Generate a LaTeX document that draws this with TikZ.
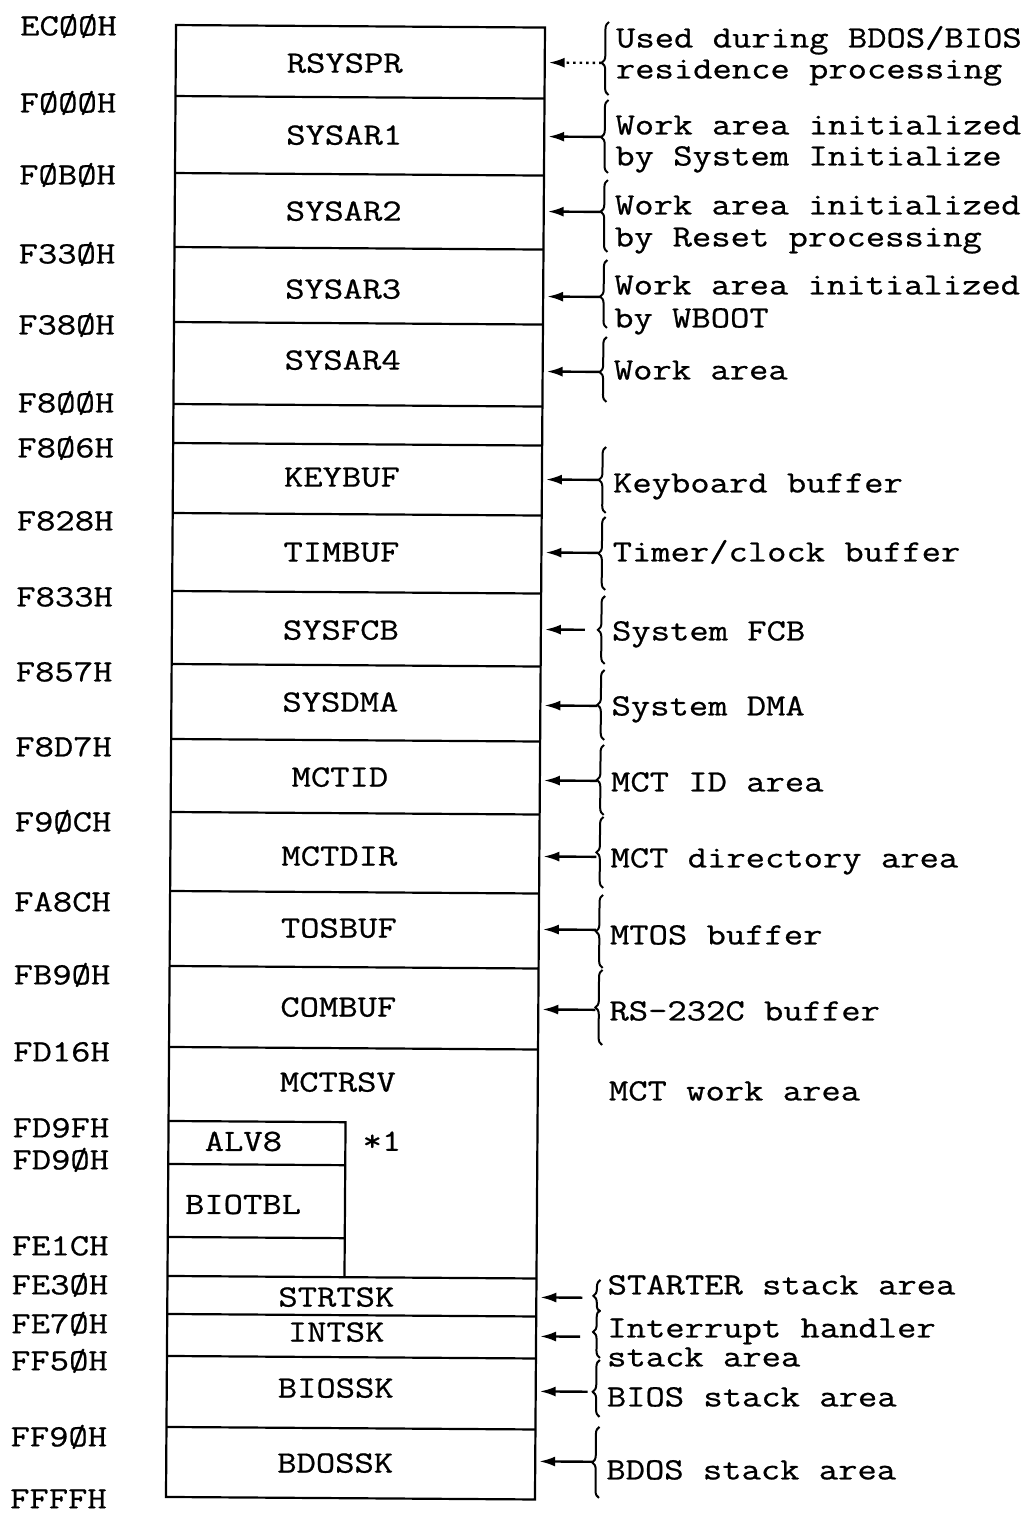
\documentclass[tikz,border=0pt]{standalone}
\usepackage{fontspec}
\newfontfamily\cour[FakeStretch=1.21,FakeBold=0.7]{Latin Modern Mono}
\usetikzlibrary{arrows.meta,decorations.pathreplacing}
\begin{document}
\begin{tikzpicture}[x=1pt,y=-1pt,
  every node/.style={inner sep=0pt, text height=18.9pt, text depth=0pt, font=\cour\fontsize{31}{35}\selectfont},
  boxline/.style={line width=2.2pt},
  addr/.style={anchor=west},
  lbl/.style={anchor=center},
  note/.style={anchor=west},
  ptr/.style={line width=2.4pt, -{Latex[length=16pt,width=10pt]}},
  dptr/.style={ptr, dash pattern=on 2.5pt off 4pt},
  brc/.style={line width=2pt, decorate, decoration={brace, amplitude=7pt, aspect=#1}},
  brc/.default=0.5
]
\useasboundingbox (0,0) rectangle (1029,1514);
\begin{scope}[rotate around={-0.39:(171,761)}]
% main box
\draw[boxline] (171,25) rectangle (540,1497);
\foreach \yy in {96,173,247,322,404,443,513,591,664,739,812,891,966,1047,1276,1314,1356,1427}
  \draw[boxline] (171,\yy) -- (540,\yy);
% inner box (ALV8 / BIOTBL)
\draw[boxline] (171,1121) -- (348,1121) -- (348,1276);
\draw[boxline] (171,1164) -- (348,1164);
\draw[boxline] (171,1237) -- (348,1237);

% area labels
\node[lbl] (rsyspr) at (340,62) {RSYSPR};
\node[lbl] (sysar1) at (340,134) {SYSAR1};
\node[lbl] (sysar2) at (340,210) {SYSAR2};
\node[lbl] (sysar3) at (340,288) {SYSAR3};
\node[lbl] (sysar4) at (340,359) {SYSAR4};
\node[lbl] (keybuf) at (340,476) {KEYBUF};
\node[lbl] (timbuf) at (340,551) {TIMBUF};
\node[lbl] (sysfcb) at (340,629) {SYSFCB};
\node[lbl] (sysdma) at (340,701) {SYSDMA};
\node[lbl] (mctid) at (340,776) {MCTID};
\node[lbl] (mctdir) at (340,855) {MCTDIR};
\node[lbl] (tosbuf) at (340,927) {TOSBUF};
\node[lbl] (combuf) at (340,1006) {COMBUF};
\node[lbl] (mctrsv) at (340,1081) {MCTRSV};
\node[lbl] (alv) at (246,1141) {ALV8};
\node[lbl] (biotbl) at (246,1204) {BIOTBL};
\node[anchor=west] (star) at (365,1140) {*1};
\node[lbl] (strtsk) at (340,1296) {STRTSK};
\node[lbl] (intsk) at (340,1331) {INTSK};
\node[lbl] (biossk) at (340,1387) {BIOSSK};
\node[lbl] (bdossk) at (340,1462) {BDOSSK};

% addresses
\node[addr] (a01) at (15,27) {ECØØH};
\node[addr] (a02) at (15,104) {FØØØH};
\node[addr] (a03) at (15,176) {FØBØH};
\node[addr] (a04) at (15,255) {F33ØH};
\node[addr] (a05) at (15,326) {F38ØH};
\node[addr] (a06) at (15,404) {F8ØØH};
\node[addr] (a07) at (15,449) {F8Ø6H};
\node[addr] (a08) at (15,522) {F828H};
\node[addr] (a09) at (15,598) {F833H};
\node[addr] (a10) at (15,673) {F857H};
\node[addr] (a11) at (15,748) {F8D7H};
\node[addr] (a12) at (15,823) {F9ØCH};
\node[addr] (a13) at (15,903) {FA8CH};
\node[addr] (a14) at (15,976) {FB9ØH};
\node[addr] (a15) at (15,1053) {FD16H};
\node[addr] (a16) at (15,1129) {FD9FH};
\node[addr] (a17) at (15,1161) {FD9ØH};
\node[addr] (a18) at (15,1247) {FE1CH};
\node[addr] (a19) at (15,1286) {FE3ØH};
\node[addr] (a20) at (15,1325) {FE7ØH};
\node[addr] (a21) at (15,1362) {FF5ØH};
\node[addr] (a22) at (15,1438) {FF9ØH};
\node[addr] (a23) at (15,1500) {FFFFH};

% right-hand notes
\node[note] (n01a) at (611,35) {Used during BDOS/BIOS};
\node[note] (n01b) at (611,66) {residence processing};
\node[note] (n02a) at (611,122) {Work area initialized};
\node[note] (n02b) at (611,153) {by System Initialize};
\node[note] (n03a) at (611,202) {Work area initialized};
\node[note] (n03b) at (611,234) {by Reset processing};
\node[note] (n04a) at (611,282) {Work area initialized};
\node[note] (n04b) at (611,315) {by WBOOT};
\node[note] (n05) at (611,367) {Work area};
\node[note] (n06) at (611,480) {Keyboard buffer};
\node[note] (n07) at (611,549) {Timer/clock buffer};
\node[note] (n08) at (611,628) {System FCB};
\node[note] (n09) at (611,703) {System DMA};
\node[note] (n10) at (611,779) {MCT ID area};
\node[note] (n11) at (611,855) {MCT directory area};
\node[note] (n12) at (611,932) {MTOS buffer};
\node[note] (n13) at (611,1008) {RS-232C buffer};
\node[note] (n14) at (611,1088) {MCT work area};
\node[note] (n15) at (611,1282) {STARTER stack area};
\node[note] (n16a) at (611,1325) {Interrupt handler};
\node[note] (n16b) at (611,1354) {stack area};
\node[note] (n17) at (611,1394) {BIOS stack area};
\node[note] (n18) at (611,1467) {BDOS stack area};

% braces
\draw[brc=0.44] (604,92) -- (604,19);
\draw[brc=0.49] (604,170) -- (604,97);
\draw[brc=0.56] (604,249) -- (604,177);
\draw[brc=0.46] (604,325) -- (604,257);
\draw[brc=0.46] (604,399) -- (604,334);
\draw[brc] (604,510) -- (604,444);
\draw[brc] (604,587) -- (604,514);
\draw[brc] (604,661) -- (604,593);
\draw[brc] (604,737) -- (604,667);
\draw[brc] (604,812) -- (604,742);
\draw[brc] (604,885) -- (604,814);
\draw[brc] (604,965) -- (604,892);
\draw[brc] (604,1042) -- (604,967);
\draw[brc] (604,1309) -- (604,1277);
\draw[brc=0.54] (604,1355) -- (604,1307);
\draw[brc=0.44] (604,1414) -- (604,1357);
\draw[brc] (604,1495) -- (604,1424);

% pointer ends
\coordinate (t01) at (597,60);   \coordinate (h01) at (544,60);
\coordinate (t02) at (597,134);  \coordinate (h02) at (544,134);
\coordinate (t03) at (597,209);  \coordinate (h03) at (544,209);
\coordinate (t04) at (597,294);  \coordinate (h04) at (544,294);
\coordinate (t05) at (597,369);  \coordinate (h05) at (544,369);
\coordinate (t06) at (597,477);  \coordinate (h06) at (544,477);
\coordinate (t07) at (597,550);  \coordinate (h07) at (544,550);
\coordinate (t08) at (584,627);  \coordinate (h08) at (544,627);
\coordinate (t09) at (597,703);  \coordinate (h09) at (544,703);
\coordinate (t10) at (597,778);  \coordinate (h10) at (544,778);
\coordinate (t11) at (597,854);  \coordinate (h11) at (544,854);
\coordinate (t12) at (597,927);  \coordinate (h12) at (544,927);
\coordinate (t13) at (597,1007); \coordinate (h13) at (544,1007);
\coordinate (t15) at (586,1295); \coordinate (h15) at (544,1295);
\coordinate (t16) at (584,1334); \coordinate (h16) at (544,1334);
\coordinate (t17) at (592,1389); \coordinate (h17) at (544,1389);
\coordinate (t18) at (597,1459); \coordinate (h18) at (544,1459);

\draw[dptr] (t01) -- (h01);
\foreach \k in {02,03,04,05,06,07,08,09,10,11,12,13,15,16,17,18}
  \draw[ptr] (t\k) -- (h\k);
\end{scope}
\end{tikzpicture}
\end{document}
